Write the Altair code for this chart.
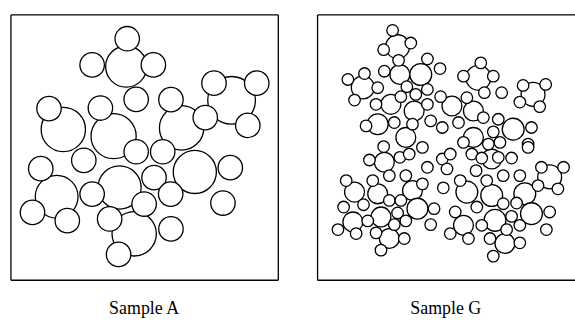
import altair as alt
import pandas as pd

# ---------------- Sample A (coordinates) ----------------
a_parent_x = [126, 232, 62.7, 113.3, 181.7, 56, 119.3, 195, 134]
a_parent_y = [65, 99, 128.3, 135, 126.7, 196, 186.7, 171, 233.3]
a_parent_r = [20.7, 24, 22.3, 22.7, 22.3, 21.5, 21.7, 21.7, 22.3]

a_child_x = [127, 91.7, 153.3, 136, 214.3, 257.3, 205.5, 248.3, 171, 48.3, 100,
             83.3, 136, 162.7, 40, 31.7, 66.7, 91.7, 154, 144, 230.7, 170.7,
             223.3, 109.3, 171, 118.3]
a_child_y = [37, 63.3, 63.3, 98, 81.7, 81.7, 116.3, 124.2, 98.3, 107.3, 106.7,
             159.3, 150.7, 150.7, 167.7, 211.7, 220, 193.3, 176.7, 203.3, 166.7,
             193.3, 202.3, 218.3, 228.3, 254]
a_child_r = [12.3] * len(a_child_x)

# ---------------- Sample G ----------------
g_parent_x = [397, 399.3, 420.3, 362, 390.3, 413.7, 377, 405.3, 478.3, 533.3,
              451.7, 473.3, 513.3, 473.3, 383.7, 353.7, 377, 412, 417, 380.3,
              352, 388.7, 491.7, 466.7, 491.7, 525, 531.7, 495, 463.3, 505, 550]
g_parent_y = [45, 73, 73, 86, 103, 109.7, 123, 136.3, 76.3, 93,
              104.7, 109.7, 128, 136.3, 161.3, 191.3, 193, 189.7, 208, 216.3,
              221.3, 238, 158, 191.3, 194.7, 193, 213, 219.7, 224.7, 243, 176]
g_parent_r = [12, 10, 11, 11.5, 10, 10, 10.5, 10, 12.5, 12,
              10, 10, 11, 10, 10, 10, 10, 10, 10.5, 10,
              10, 10, 10, 11, 11, 11, 11, 11, 10, 10, 12]

g_child_x = [392, 410.3, 383, 398, 427, 439.7, 383.7, 347, 363.7, 377, 353.7,
             406.3, 427, 440.3, 375.3, 400.3, 415.3, 427, 430.3, 365.3, 393.7,
             412, 442,
             480.7, 463.3, 493.3, 484.3, 523.3, 546, 501.7, 520, 540, 466.7,
             483.3, 498.3, 458.3, 531.7, 493.3, 463.3, 488.3, 500, 528.3,
             383, 399.3, 368.7, 408.7, 422, 427, 442, 388.7, 405.3, 345.3, 372,
             422, 443, 362.7, 388.7, 400.3, 342.7, 433.7, 397, 367, 405.3,
             393.7, 430.3, 337, 355.3, 375.3, 403.7, 380.3, 450,
             450, 471.7, 481.7, 498.3, 511.7, 528.3, 446.7, 476, 541.7, 564,
             503.3, 520, 460, 486.7, 538.3, 558.3, 503.3, 516.7, 476.7, 455,
             550, 511.7, 481.7, 506.7, 520, 546.7, 468.3, 490, 520, 493.3]
g_child_y = [28.7, 41.3, 48, 58.7, 57.3, 67, 69.7, 78, 72, 86.3, 98.7,
             85.3, 88, 95.3, 103, 95.3, 93, 103, 119.7, 124.7, 121.3,
             123, 126.3,
             61.3, 74.7, 74.7, 91.3, 84, 83, 91.3, 100.7, 105.3, 96.3,
             116.3, 118, 121.3, 126.3, 130.7, 141.3, 143, 141.3, 143,
             145.5, 156.3, 159, 153, 146.3, 166.3, 158, 174.7, 174.7, 179.7, 179.7,
             183, 187, 204, 199.7, 199.7, 206.3, 208, 212.3, 220.3, 220.3,
             224, 224, 229, 233, 232.3, 238, 249.7, 233,
             153, 153, 157, 156.3, 157, 146.3, 168, 169.7, 166.3, 166.3,
             174.7, 174.7, 179.7, 179.7, 184.7, 188, 203, 202.3, 206.3, 211.3,
             211.3, 215.7, 224.7, 229, 224.7, 229, 238, 238, 242.3, 255.7]
g_child_r = [5.8] * len(g_child_x)

labels = ["Sample A", "Sample G"]

Y_DOMAIN = [12.5, 279.5]
PANEL_H = 267


def frame_axis(orient):
    return alt.Axis(orient=orient, domain=True, domainColor="black",
                    domainWidth=1.3, ticks=False, labels=False, grid=False,
                    title=None, minExtent=0, offset=0)


def panel(px, py, pr, cx, cy, cr, xdom, width, title, right_border):
    xs = alt.Scale(domain=xdom, nice=False, zero=False)
    ys = alt.Scale(domain=Y_DOMAIN, nice=False, zero=False, reverse=True)
    ss = alt.Scale(type="pow", exponent=2, domain=[0, 25], range=[0, 2500])
    mk = dict(shape="circle", filled=True, fill="white", stroke="black",
              strokeWidth=1.3, opacity=1, fillOpacity=1, strokeOpacity=1)
    parents = alt.Chart(pd.DataFrame({"x": px, "y": py, "r": pr})).mark_point(**mk).encode(
        x=alt.X("x:Q", scale=xs, axis=frame_axis("bottom")),
        y=alt.Y("y:Q", scale=ys, axis=frame_axis("left")),
        size=alt.Size("r:Q", scale=ss, legend=None),
    )
    yc = alt.Y("y:Q", scale=ys, axis=frame_axis("right" if right_border else "left"))
    children = alt.Chart(pd.DataFrame({"x": cx, "y": cy, "r": cr})).mark_point(**mk).encode(
        x=alt.X("x:Q", scale=xs, axis=frame_axis("top")),
        y=yc,
        size=alt.Size("r:Q", scale=ss, legend=None),
    )
    lay = alt.layer(parents, children)
    if right_border:
        lay = lay.resolve_axis(x="independent", y="independent")
    else:
        lay = lay.resolve_axis(x="independent", y="shared")
    return lay.properties(
        width=width, height=PANEL_H,
        title=alt.TitleParams(text=title, orient="bottom", anchor="middle",
                              font="Liberation Serif", fontSize=18,
                              fontWeight="normal", color="black", offset=20),
    )


pa = panel(a_parent_x, a_parent_y, a_parent_r, a_child_x, a_child_y, a_child_r,
           [9.5, 278.5], 269, labels[0], True)
pg = panel(g_parent_x, g_parent_y, g_parent_r, g_child_x, g_child_y, g_child_r,
           [316, 575], 259, labels[1], False)

chart = alt.hconcat(pa, pg, spacing=37.5).properties(
    padding={"left": 9.5, "top": 12.5, "right": 0, "bottom": 0},
    background="white",
).configure_view(stroke="transparent")

chart.save("out.html", embed_options={"renderer": "svg", "actions": False})
